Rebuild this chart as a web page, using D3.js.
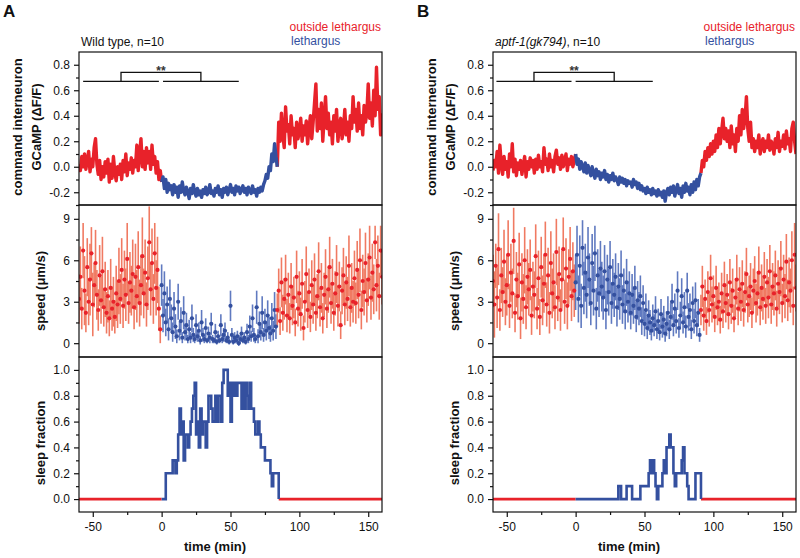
<!DOCTYPE html>
<html><head><meta charset="utf-8">
<script src="https://cdn.jsdelivr.net/npm/d3@7"></script>
<style>body{margin:0;background:#fff}svg{display:block;font-family:Arial,'Liberation Sans',sans-serif}</style>
</head><body><svg id="c" width="800" height="558"></svg>
<script>
// time axis: one sample per minute, starting at t = -60 (221 samples, -60..160)
const tStart = -60;
const xTicks = [-50, 0, 50, 100, 150];
const xMinor = [-25, 25, 75, 125];
const gTicks = [-0.2, 0, 0.2, 0.4, 0.6, 0.8];
const gMinor = [-0.3, -0.1, 0.1, 0.3, 0.5, 0.7];
const sTicks = [0, 3, 6, 9];
const sMinor = [1.5, 4.5, 7.5];
const fTicks = [0, 0.2, 0.4, 0.6, 0.8, 1.0];
const fMinor = [0.1, 0.3, 0.5, 0.7, 0.9];

// GCaMP dF/F, wild type
const gcampA = [
0.02,-0.03,0.08,0.0,0.1,-0.02,0.05,0.12,-0.04,0.06,
0.0,0.15,0.22,0.02,-0.06,0.05,-0.1,0.0,-0.08,0.04,
-0.05,0.06,-0.12,0.02,-0.09,0.08,-0.04,-0.11,0.0,-0.06,
0.02,-0.1,0.05,-0.04,0.1,-0.07,0.03,-0.02,0.07,-0.05,
0.05,0.0,0.17,-0.03,0.1,0.22,0.0,0.12,-0.02,0.15,
0.03,0.12,-0.02,0.17,0.02,0.08,-0.05,0.04,-0.1,-0.03,
-0.12,-0.08,-0.17,-0.1,-0.2,-0.13,-0.18,-0.15,-0.22,-0.14,
-0.2,-0.16,-0.24,-0.15,-0.2,-0.12,-0.19,-0.22,-0.16,-0.2,
-0.25,-0.17,-0.21,-0.14,-0.2,-0.23,-0.17,-0.22,-0.19,-0.24,
-0.18,-0.21,-0.16,-0.22,-0.2,-0.14,-0.21,-0.19,-0.23,-0.17,
-0.2,-0.15,-0.22,-0.18,-0.24,-0.17,-0.2,-0.16,-0.22,-0.18,
-0.14,-0.2,-0.17,-0.22,-0.15,-0.19,-0.16,-0.21,-0.18,-0.15,
-0.2,-0.17,-0.22,-0.16,-0.19,-0.21,-0.15,-0.2,-0.18,-0.23,
-0.17,-0.2,-0.16,-0.19,-0.14,-0.11,-0.06,-0.09,0.0,-0.03,
0.1,0.04,0.18,0.08,0.0,0.35,0.2,0.42,0.25,0.15,
0.47,0.28,0.33,0.18,0.4,0.25,0.3,0.15,0.35,0.22,
0.28,0.38,0.2,0.32,0.25,0.36,0.18,0.3,0.4,0.22,
0.35,0.5,0.65,0.28,0.45,0.3,0.5,0.2,0.38,0.55,
0.3,0.42,0.25,0.35,0.18,0.4,0.28,0.45,0.2,0.32,
0.38,0.22,0.3,0.45,0.25,0.35,0.2,0.4,0.3,0.55,
0.35,0.45,0.28,0.5,0.3,0.4,0.25,0.48,0.35,0.42,
0.65,0.38,0.5,0.32,0.6,0.4,0.78,0.45,0.55,0.25,
0.42];
// GCaMP dF/F, aptf-1(gk794)
const gcampB = [
-0.03,0.05,0.0,0.12,-0.05,0.17,0.02,-0.06,0.08,-0.02,
0.04,-0.08,0.1,0.0,0.18,-0.04,0.06,-0.07,0.03,-0.02,
0.05,-0.06,0.02,0.08,-0.08,0.04,-0.02,0.07,0.0,0.05,
-0.05,0.06,-0.02,0.09,0.0,0.04,-0.04,0.15,0.02,0.06,
-0.03,0.1,0.0,0.05,-0.04,0.08,0.13,0.02,0.07,-0.02,
0.09,0.0,0.05,0.1,-0.03,0.06,0.02,0.08,0.0,0.05,
0.1,0.02,0.06,-0.02,0.04,0.0,-0.04,0.03,-0.05,0.01,
-0.03,-0.07,0.0,-0.05,-0.09,-0.02,-0.07,-0.04,-0.1,-0.05,
-0.08,-0.03,-0.1,-0.06,-0.12,-0.07,-0.1,-0.05,-0.11,-0.08,
-0.1,-0.14,-0.08,-0.12,-0.09,-0.13,-0.1,-0.15,-0.11,-0.13,
-0.12,-0.16,-0.1,-0.14,-0.12,-0.17,-0.13,-0.18,-0.15,-0.19,
-0.17,-0.21,-0.16,-0.2,-0.18,-0.22,-0.17,-0.21,-0.19,-0.23,
-0.18,-0.22,-0.2,-0.24,-0.19,-0.27,-0.2,-0.17,-0.22,-0.16,
-0.2,-0.15,-0.23,-0.18,-0.14,-0.21,-0.17,-0.24,-0.15,-0.2,
-0.13,-0.19,-0.16,-0.22,-0.14,-0.2,-0.12,-0.18,-0.1,-0.15,
-0.08,-0.05,0.05,0.0,0.12,0.05,0.15,0.08,0.18,0.1,
0.2,0.12,0.25,0.15,0.3,0.18,0.28,0.38,0.22,0.3,
0.2,0.28,0.15,0.32,0.18,0.25,0.12,0.3,0.2,0.4,
0.25,0.45,0.3,0.38,0.55,0.3,0.2,0.35,0.15,0.22,
0.12,0.2,0.15,0.25,0.1,0.18,0.22,0.12,0.2,0.15,
0.25,0.13,0.2,0.18,0.1,0.22,0.15,0.27,0.12,0.2,
0.16,0.25,0.14,0.28,0.18,0.22,0.12,0.3,0.35,0.2,
0.1];

// speed (um/s) mean and error, wild type
const speedA = [
3.2,4.8,2.5,6.7,3.8,2.2,5.5,3.0,4.6,6.5,
2.8,4.2,5.8,3.5,2.4,4.9,3.1,5.2,2.6,3.9,
2.2,3.4,1.8,4.0,2.5,3.0,1.9,3.6,2.8,4.5,
3.2,5.3,2.7,4.6,3.5,6.1,2.9,4.4,3.8,5.0,
2.6,4.8,3.4,5.5,2.9,4.2,6.3,3.6,5.1,2.8,
4.7,7.3,3.9,5.8,3.2,6.5,4.0,5.3,2.5,1.0,
4.2,2.0,3.6,1.5,2.8,1.0,3.2,1.8,0.8,2.5,
1.2,0.5,3.0,0.9,1.6,0.4,2.2,0.8,1.3,0.3,
1.0,0.4,1.8,0.6,0.3,1.3,0.5,0.9,0.2,1.5,
0.6,0.3,1.1,0.2,0.7,0.4,1.4,0.3,0.2,0.8,
0.1,0.5,0.2,1.3,0.3,0.6,0.9,0.2,0.4,0.1,
2.7,0.6,0.1,0.4,0.2,0.5,0.0,0.3,0.7,0.2,
0.4,0.1,0.8,0.3,1.2,0.5,1.8,0.6,0.3,2.6,
0.5,1.4,0.8,2.2,0.6,1.5,0.9,2.0,1.1,0.7,
1.8,0.9,2.4,1.2,2.4,3.8,1.6,4.4,2.2,3.2,
4.6,2.0,3.5,1.8,4.1,2.7,3.3,1.5,4.8,2.5,
3.6,2.1,4.3,1.1,3.0,5.0,2.4,3.7,1.9,4.2,
2.8,4.6,2.2,3.4,5.2,2.6,4.0,1.8,3.5,4.8,
2.5,3.9,5.5,2.9,4.3,2.2,3.6,5.0,2.7,4.1,
1.3,3.8,4.9,2.8,4.4,3.2,5.6,2.6,4.0,3.0,
4.7,2.9,5.3,3.5,6.0,2.4,4.5,3.7,5.8,3.1,
4.6,6.2,3.3,5.1,3.9,7.3,4.2,5.6,3.4,6.7,
4.8];
const speedErrA = [
1.8,2.2,1.5,2.0,2.5,1.4,2.1,1.7,2.6,1.9,
2.3,1.6,2.4,1.8,1.5,2.2,1.7,2.5,1.4,2.0,
1.5,1.9,1.3,2.1,1.6,1.8,1.2,2.0,1.7,2.4,
1.8,2.3,1.6,2.1,1.9,2.6,1.5,2.2,1.8,2.5,
1.6,2.4,1.9,2.6,1.7,2.2,2.8,1.8,2.4,1.6,
2.3,2.6,1.9,2.5,1.8,2.2,2.0,2.4,1.6,1.0,
1.5,1.2,1.6,1.0,1.3,0.8,1.4,1.0,0.7,1.2,
0.9,0.5,1.3,0.7,1.0,0.4,1.2,0.6,0.9,0.3,
0.7,0.4,1.0,0.5,0.3,0.8,0.4,0.6,0.3,0.9,
0.5,0.3,0.7,0.2,0.5,0.4,0.8,0.3,0.2,0.6,
0.2,0.4,0.2,0.8,0.3,0.5,0.6,0.2,0.4,0.2,
1.1,0.5,0.2,0.4,0.2,0.4,0.2,0.3,0.5,0.2,
0.4,0.2,0.6,0.3,0.8,0.4,1.0,0.5,0.3,1.2,
0.5,0.9,0.6,1.2,0.5,1.0,0.7,1.1,0.8,0.6,
1.1,0.7,1.3,0.9,1.2,1.6,1.0,1.8,1.3,1.5,
1.8,1.2,1.6,1.1,1.7,1.4,1.5,1.0,1.9,1.3,
1.6,1.2,1.8,0.9,1.5,2.0,1.3,1.7,1.1,1.8,
1.4,1.9,1.3,1.6,2.1,1.4,1.8,1.1,1.6,2.0,
1.4,1.7,2.2,1.5,1.8,1.3,1.6,2.1,1.5,1.8,
1.0,1.7,2.0,1.5,1.9,1.6,2.2,1.4,1.8,1.5,
2.0,1.5,2.1,1.7,2.3,1.4,1.9,1.7,2.2,1.6,
1.9,2.3,1.6,2.1,1.8,1.2,1.9,2.2,1.7,1.8,
2.0];
// speed (um/s) mean and error, aptf-1(gk794)
const speedB = [
4.5,2.8,5.6,3.3,6.8,2.4,4.9,3.7,5.9,3.0,
4.2,6.4,2.7,5.1,3.6,7.4,2.2,4.6,3.4,5.7,
1.8,4.4,3.2,6.0,2.6,4.8,3.9,5.3,2.0,4.1,
3.5,6.3,2.5,4.7,1.9,5.5,3.1,4.3,6.4,2.8,
4.9,2.2,5.8,3.6,4.4,2.6,6.6,3.3,5.0,2.4,
4.6,6.8,3.0,5.4,2.7,4.8,6.1,3.4,5.2,3.8,
4.4,6.4,3.2,5.6,2.7,6.9,4.0,5.1,3.5,6.2,
4.6,2.9,5.8,3.8,6.5,2.5,4.9,3.6,5.4,4.1,
3.3,5.2,2.4,4.6,3.7,5.5,2.9,4.3,3.5,4.8,
2.6,4.1,3.2,4.9,2.8,3.8,2.3,4.4,3.0,3.6,
2.2,3.5,2.7,4.0,1.9,3.1,2.5,3.4,1.6,2.9,
1.4,2.4,1.1,2.0,1.5,0.9,1.8,1.3,2.3,1.0,
1.6,0.8,2.1,1.2,1.7,0.7,1.4,2.2,1.0,1.9,
3.0,1.3,2.5,1.6,3.8,1.1,2.0,3.4,1.5,2.6,
1.2,3.8,1.9,2.4,1.0,2.9,1.6,3.1,1.3,2.2,
0.6,2.4,4.1,2.0,3.2,1.6,3.7,2.4,4.7,2.8,
3.4,1.9,4.0,2.6,3.0,1.7,3.6,2.3,4.2,2.9,
3.5,2.1,4.4,2.7,3.8,1.8,3.3,4.6,2.5,3.9,
3.0,4.3,2.4,3.7,5.0,2.8,3.4,4.1,2.2,3.8,
4.5,2.9,3.6,5.1,2.6,4.0,3.2,4.8,2.7,4.4,
3.3,5.2,2.8,4.1,3.6,4.9,2.5,4.3,3.7,5.4,
2.9,4.6,3.4,5.9,3.1,4.4,3.8,6.0,2.7,6.4,
4.0];
const speedErrB = [
1.9,2.4,1.6,2.2,2.6,1.5,2.0,1.8,2.3,1.7,
2.2,2.5,1.6,2.1,1.8,2.4,1.4,2.0,1.7,2.3,
1.5,2.1,1.8,2.4,1.6,2.0,1.9,2.2,1.4,1.8,
1.7,2.3,1.5,2.0,1.3,2.2,1.8,2.1,2.4,1.6,
2.0,1.5,2.3,1.8,2.1,1.6,2.4,1.7,2.0,1.5,
2.1,2.3,1.6,2.2,1.7,2.0,2.3,1.8,2.1,1.9,
2.0,2.1,1.7,2.2,1.6,2.0,1.9,2.1,1.7,2.2,
1.9,1.6,2.1,1.8,2.0,1.5,1.9,1.7,2.0,1.8,
1.6,1.9,1.4,1.8,1.7,1.9,1.5,1.8,1.6,1.7,
1.4,1.7,1.5,1.8,1.4,1.6,1.3,1.7,1.5,1.6,
1.2,1.5,1.3,1.6,1.1,1.4,1.2,1.5,1.0,1.3,
0.9,1.2,0.8,1.1,0.9,0.7,1.0,0.8,1.1,0.7,
0.9,0.6,1.1,0.8,1.0,0.6,0.9,1.2,0.7,1.0,
1.3,0.8,1.1,0.9,1.4,0.7,1.0,1.3,0.8,1.1,
0.8,1.3,1.0,1.2,0.7,1.2,0.9,1.3,0.8,1.0,
0.5,1.1,1.5,1.1,1.4,1.0,1.5,1.2,1.7,1.3,
1.5,1.1,1.6,1.3,1.4,1.0,1.5,1.2,1.7,1.4,
1.5,1.1,1.7,1.3,1.6,1.0,1.4,1.8,1.2,1.6,
1.4,1.7,1.2,1.5,1.9,1.3,1.5,1.7,1.1,1.6,
1.8,1.4,1.6,1.9,1.3,1.7,1.5,1.8,1.3,1.7,
1.5,1.9,1.4,1.7,1.6,1.8,1.3,1.7,1.6,2.0,
1.4,1.8,1.6,2.0,1.5,1.8,1.6,2.1,1.4,2.3,
1.7];

// sleep fraction during lethargus, one value per minute from t = 0
const sleepA = [
0,0,0,0.2,0.2,0.2,0.2,0.2,0.3,0.3,
0.2,0.3,0.5,0.7,0.5,0.6,0.3,0.5,0.5,0.4,
0.5,0.6,0.7,0.8,0.9,0.5,0.6,0.4,0.7,0.5,
0.6,0.6,0.4,0.6,0.8,0.8,0.7,0.6,0.6,0.8,
0.6,0.8,0.8,0.6,0.9,1.0,1.0,1.0,0.8,0.9,
0.6,0.9,0.8,0.9,0.8,0.9,0.9,0.9,0.7,0.9,
0.7,0.9,0.8,0.7,0.9,0.7,0.7,0.6,0.5,0.5,
0.6,0.5,0.4,0.4,0.4,0.3,0.3,0.3,0.3,0.2,
0.1,0.2,0.2,0.2,0.2,0];
const sleepB = [
0,0,0,0,0,0,0,0,0,0,
0,0,0,0,0,0,0,0,0,0,
0,0,0,0,0,0,0,0,0,0,
0,0.1,0.1,0,0,0,0,0.1,0.1,0.1,
0.1,0,0,0,0,0,0,0.1,0.1,0.1,
0.1,0.1,0.1,0.2,0.3,0.2,0.3,0.2,0.1,0,
0.1,0.1,0.1,0.2,0.3,0.2,0.4,0.4,0.5,0.4,
0.4,0.2,0.1,0.2,0.2,0.2,0.2,0.3,0.4,0.2,
0.2,0.1,0,0,0,0,0,0.2,0.2,0.2,
0.2,0];

const lethargusA = [0, 84];
const lethargusB = [0, 91];
// significance brackets: [left segment], [right segment], line level, bracket top
const sigA = {left: [-57, -2], right: [1, 56], level: 0.67, top: 0.74};
const sigB = {left: [-57.5, -3], right: [0, 56], level: 0.67, top: 0.74};

const RED = "#e8222a", BLUE = "#34509f", RED_L = "#f07a62", BLUE_L = "#607ac0";
const svg = d3.select("#c");
const FONT = "Arial,'Liberation Sans',sans-serif";

function drawPanel(p) {
  const ox = p.ox;
  const x = d3.scaleLinear().domain([-60, 160]).range([79 + ox, 382 + ox]);
  const y1 = d3.scaleLinear().domain([-0.3, 0.9]).range([205, 52]);
  const y2 = d3.scaleLinear().domain([-1, 10]).range([357, 205]);
  const y3 = d3.scaleLinear().domain([-0.1, 1.1]).range([512, 357]);
  const g = svg.append("g");
  const clipId = "clip" + p.letter;
  const defs = svg.append("defs");
  [[y1,1],[y2,2],[y3,3]].forEach(([y,k]) => {
    defs.append("clipPath").attr("id", clipId + k).append("rect")
      .attr("x", x.range()[0]).attr("y", y.range()[1])
      .attr("width", x.range()[1] - x.range()[0]).attr("height", y.range()[0] - y.range()[1]);
  });
  const t = i => tStart + i;
  const [l0, l1] = p.leth;

  // ---- GCaMP panel
  const gp = g.append("g").attr("clip-path", `url(#${clipId}1)`);
  const gdata = p.gcamp.map((v, i) => ({t: t(i), v}));
  const line1 = d3.line().x(d => x(d.t)).y(d => y1(d.v));
  const segs = [
    {d: gdata.filter(d => d.t <= l0), c: RED},
    {d: gdata.filter(d => d.t >= l1), c: RED},
    {d: gdata.filter(d => d.t >= l0 && d.t <= l1), c: BLUE}
  ];
  segs.forEach(s => gp.append("path").attr("d", line1(s.d)).attr("fill", "none")
    .attr("stroke", s.c).attr("stroke-width", 3.4).attr("stroke-linejoin", "round"));

  // ---- speed panel
  const sp = g.append("g").attr("clip-path", `url(#${clipId}2)`);
  const sdata = p.speed.map((v, i) => ({t: t(i), v, e: p.speedErr[i], leth: t(i) >= l0 && t(i) < l1}));
  sp.selectAll("line.err").data(sdata).join("line").attr("class", "err")
    .attr("x1", d => x(d.t)).attr("x2", d => x(d.t))
    .attr("y1", d => y2(d.v - d.e)).attr("y2", d => y2(d.v + d.e))
    .attr("stroke", d => d.leth ? BLUE_L : RED_L).attr("stroke-width", 1.6);
  sp.selectAll("circle").data(sdata).join("circle")
    .attr("cx", d => x(d.t)).attr("cy", d => y2(d.v)).attr("r", 2.1)
    .attr("fill", d => d.leth ? BLUE : RED);

  // ---- sleep fraction panel
  const fp = g.append("g").attr("clip-path", `url(#${clipId}3)`);
  const sEnd = p.sleep.length - 1;
  const sl = d3.line().x(d => x(d.t)).y(d => y3(d.v)).curve(d3.curveStepAfter);
  const fBlue = p.sleep.map((v, i) => ({t: i, v}));
  const fRedPre = [{t: -60, v: 0}, {t: 0, v: 0}];
  const fRedPost = [{t: sEnd, v: 0}, {t: 160, v: 0}];
  fp.append("path").attr("d", sl(fRedPre)).attr("fill", "none").attr("stroke", RED).attr("stroke-width", 2.6);
  fp.append("path").attr("d", sl(fRedPost)).attr("fill", "none").attr("stroke", RED).attr("stroke-width", 2.6);
  fp.append("path").attr("d", sl(fBlue)).attr("fill", "none").attr("stroke", BLUE).attr("stroke-width", 2.6);

  // ---- frames
  [y1, y2, y3].forEach(y => g.append("rect")
    .attr("x", x.range()[0]).attr("y", y.range()[1])
    .attr("width", x.range()[1] - x.range()[0]).attr("height", y.range()[0] - y.range()[1])
    .attr("fill", "none").attr("stroke", "#111").attr("stroke-width", 1.2));

  // ---- axes
  const styleAxis = sel => {
    sel.select(".domain").remove();
    sel.selectAll("line").attr("stroke", "#111").attr("stroke-width", 1.2);
    sel.selectAll("text").attr("font-size", 12).attr("font-family", FONT).attr("fill", "#111");
  };
  const left = x.range()[0];
  [[y1, gTicks, gMinor, d => d.toFixed(1)], [y2, sTicks, sMinor, d => String(d)], [y3, fTicks, fMinor, d => d.toFixed(1)]]
    .forEach(([y, maj, min, fmt]) => {
      g.append("g").attr("transform", `translate(${left},0)`)
        .call(d3.axisLeft(y).tickValues(maj).tickSize(5).tickPadding(4).tickFormat(fmt)).call(styleAxis);
      g.append("g").attr("transform", `translate(${left},0)`)
        .call(d3.axisLeft(y).tickValues(min).tickSize(3).tickFormat("")).call(styleAxis);
    });
  g.append("g").attr("transform", `translate(0,${y3.range()[0]})`)
    .call(d3.axisBottom(x).tickValues(xTicks).tickSize(5).tickPadding(5).tickFormat(d => String(d))).call(styleAxis);
  g.append("g").attr("transform", `translate(0,${y3.range()[0]})`)
    .call(d3.axisBottom(x).tickValues(xMinor).tickSize(3).tickFormat("")).call(styleAxis);

  // ---- axis titles
  const bold = (sel) => sel.attr("font-family", FONT).attr("font-weight", "bold").attr("font-size", 13).attr("fill", "#111").attr("text-anchor", "middle");
  g.append("text").attr("transform", `translate(${22 + ox},127) rotate(-90)`).text("command interneuron").call(bold);
  g.append("text").attr("transform", `translate(${41 + ox},127) rotate(-90)`).text("GCaMP (\u0394F/F)").call(bold);
  g.append("text").attr("transform", `translate(${45 + ox},291) rotate(-90)`).text("speed (\u03bcm/s)").call(bold);
  g.append("text").attr("transform", `translate(${45 + ox},443) rotate(-90)`).text("sleep fraction").call(bold);
  g.append("text").attr("x", 215 + ox).attr("y", 551).text("time (min)").call(bold);

  // ---- panel letter, title, legend
  g.append("text").attr("x", 3 + ox).attr("y", 17).text(p.letter)
    .attr("font-family", FONT).attr("font-weight", "bold").attr("font-size", 17).attr("fill", "#111");
  const title = g.append("text").attr("x", 81 + ox).attr("y", 46).attr("font-family", FONT).attr("font-size", 12).attr("fill", "#111");
  if (p.italic) title.append("tspan").attr("font-style", "italic").text(p.italic);
  title.append("tspan").text(p.title);
  g.append("text").attr("x", x.range()[1] - 1).attr("y", 31).attr("text-anchor", "end")
    .attr("font-family", FONT).attr("font-size", 12).attr("fill", RED).text("outside lethargus");
  g.append("text").attr("x", x.range()[1] - 91).attr("y", 45)
    .attr("font-family", FONT).attr("font-size", 12).attr("fill", BLUE).text("lethargus");

  // ---- significance bracket
  const s = p.sig;
  const ls = {stroke: "#111", "stroke-width": 1.3, fill: "none"};
  [s.left, s.right].forEach(seg => {
    const el = g.append("line").attr("x1", x(seg[0])).attr("x2", x(seg[1])).attr("y1", y1(s.level)).attr("y2", y1(s.level));
    Object.entries(ls).forEach(([k, v]) => el.attr(k, v));
  });
  const mL = (s.left[0] + s.left[1]) / 2, mR = (s.right[0] + s.right[1]) / 2;
  const br = g.append("path").attr("d", d3.line()([[x(mL), y1(s.level)], [x(mL), y1(s.top)], [x(mR), y1(s.top)], [x(mR), y1(s.level)]]));
  Object.entries(ls).forEach(([k, v]) => br.attr(k, v));
  g.append("text").attr("x", x((mL + mR) / 2)).attr("y", y1(s.top) + 2.5).attr("text-anchor", "middle")
    .attr("font-family", FONT).attr("font-size", 12).attr("font-weight", "bold").attr("fill", "#333").text("**");
}

drawPanel({letter: "A", ox: 0, gcamp: gcampA, speed: speedA, speedErr: speedErrA, sleep: sleepA,
  leth: lethargusA, title: "Wild type, n=10", sig: sigA});
drawPanel({letter: "B", ox: 414, gcamp: gcampB, speed: speedB, speedErr: speedErrB, sleep: sleepB,
  leth: lethargusB, italic: "aptf-1(gk794)", title: ", n=10", sig: sigB});
</script></body></html>
